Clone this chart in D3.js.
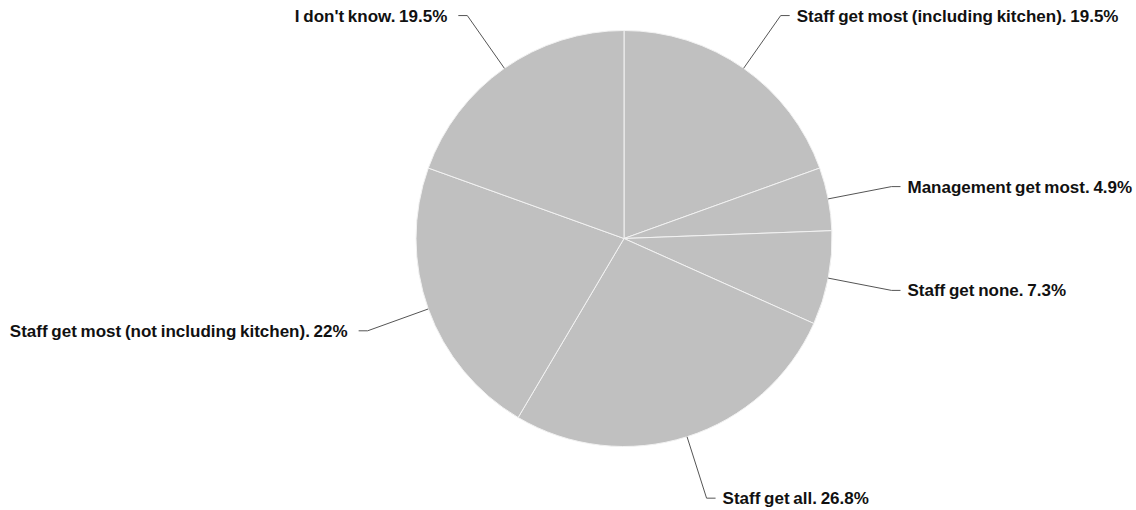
<!DOCTYPE html>
<html>
<head>
<meta charset="utf-8">
<script src="https://cdn.jsdelivr.net/npm/d3@7"></script>
<style>
  html, body { margin: 0; padding: 0; background: #fff; }
  svg text { font-family: "Liberation Sans", Arial, sans-serif; font-weight: bold; fill: #111; }
</style>
</head>
<body>
<svg id="chart" width="1136" height="510"></svg>
<script>
// Survey answers: who receives the service charge
const categories = [
  "Staff get most (including kitchen)",
  "Management get most",
  "Staff get none",
  "Staff get all",
  "Staff get most (not including kitchen)",
  "I don't know"
];
const percentLabels = ["19.5%", "4.9%", "7.3%", "26.8%", "22%", "19.5%"];
const values = [19.5, 4.9, 7.3, 26.8, 22, 19.5];

const svg = d3.select("#chart");
const cx = 624, cy = 238.5, radius = 208;

const data = categories.map((c, i) => ({ name: c, label: percentLabels[i], value: values[i] }));

const pie = d3.pie().sort(null).value(d => d.value);
const arcs = pie(data);

const arc = d3.arc().innerRadius(0).outerRadius(radius);
const edge = d3.arc().innerRadius(radius).outerRadius(radius);
const bend = d3.arc().innerRadius(radius * 1.31).outerRadius(radius * 1.31);

const g = svg.append("g").attr("transform", `translate(${cx},${cy})`);

g.selectAll("path.slice")
  .data(arcs)
  .join("path")
  .attr("class", "slice")
  .attr("d", arc)
  .attr("fill", "#c0c0c0")
  .attr("stroke", "#f2f2f2")
  .attr("stroke-width", 1);

const midAngle = d => (d.startAngle + d.endAngle) / 2;
const side = d => (midAngle(d) < Math.PI ? 1 : -1);

g.selectAll("polyline.leader")
  .data(arcs)
  .join("polyline")
  .attr("class", "leader")
  .attr("fill", "none")
  .attr("stroke", "#555")
  .attr("stroke-width", 1)
  .attr("points", d => {
    const p0 = edge.centroid(d);
    const p1 = bend.centroid(d);
    const p2 = [p1[0] + side(d) * 9, p1[1]];
    return [p0, p1, p2].map(p => p.join(",")).join(" ");
  });

g.selectAll("text.label")
  .data(arcs)
  .join("text")
  .attr("class", "label")
  .attr("x", d => bend.centroid(d)[0] + side(d) * (side(d) > 0 ? 16 : 20))
  .attr("y", d => bend.centroid(d)[1])
  .attr("dy", "0.35em")
  .attr("text-anchor", d => (side(d) > 0 ? "start" : "end"))
  .style("font-size", "17px")
  .style("word-spacing", "-1px")
  .text(d => `${d.data.name}. ${d.data.label}`);
</script>
</body>
</html>
